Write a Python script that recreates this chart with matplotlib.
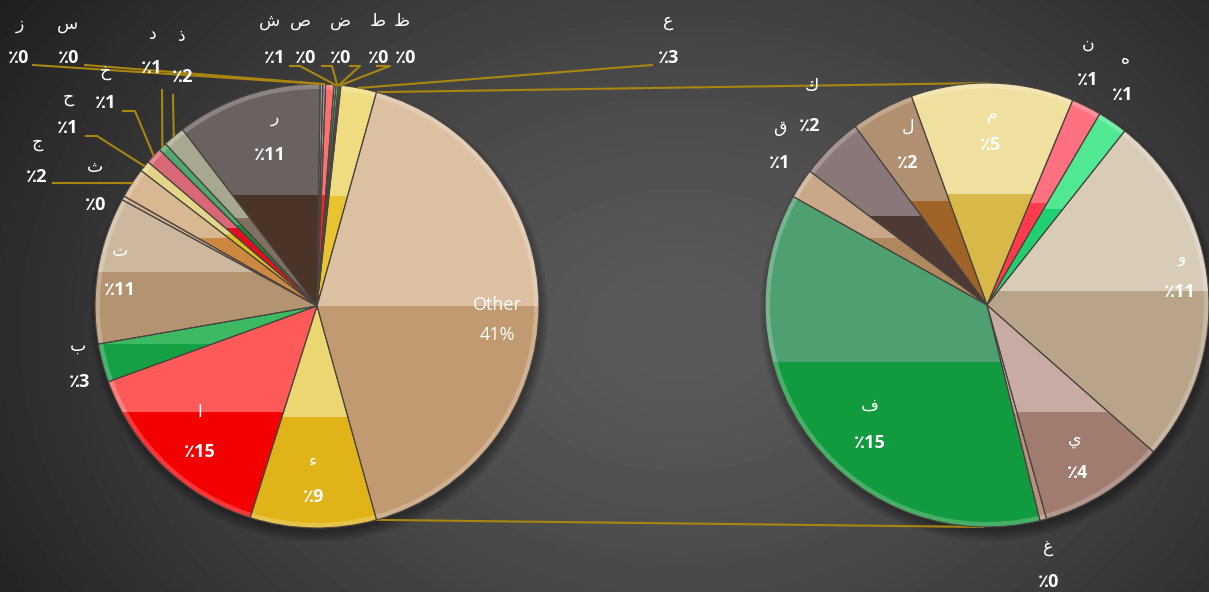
import numpy as np
import matplotlib.pyplot as plt
from matplotlib.patches import Rectangle, Wedge, Circle, PathPatch

# %% data (percent of total)
left_letters = ['ء', 'ا', 'ب', 'ت', 'ث', 'ج', 'ح', 'خ', 'د', 'ذ', 'ر',
                'ز', 'س', 'ش', 'ص', 'ض', 'ط', 'ظ', 'ع']
left_values = [9.2, 14.6, 2.8, 10.7, 0.3, 2.2, 0.8, 1.2, 0.6, 1.6, 10.6,
               0.2, 0.2, 0.6, 0.15, 0.15, 0.1, 0.1, 2.6]
right_letters = ['غ', 'ف', 'ق', 'ك', 'ل', 'م', 'ن', 'ه', 'و', 'ي']
right_values = [0.2, 15.3, 0.9, 1.9, 1.9, 4.9, 0.9, 0.9, 10.7, 3.8]
other_name = 'Other'

# colours: (upper glossy, lower) per slice
left_light = ['#ecd672', '#ff5a5a', '#3cba62', '#ccb89e', '#d0b090', '#d8b890',
              '#e4d488', '#d86878', '#50a870', '#a8a890', '#6a6260',
              '#909090', '#a0a0a0', '#ff7070', '#60d080', '#60d080',
              '#f0e090', '#f0e090', '#f0dc80']
left_dark = ['#e0b418', '#f50000', '#16a044', '#b49470', '#c89060', '#cc8840',
             '#e0c020', '#e01020', '#109040', '#807060', '#4a3428',
             '#706860', '#807870', '#ff2020', '#20b050', '#20b050',
             '#e8c830', '#e8c830', '#e8c430']
other_light, other_dark = '#dcc0a2', '#c29a72'
right_light = ['#c8a8a0', '#4fa070', '#c8a888', '#8a7878', '#b09070',
               '#f0e0a0', '#ff7080', '#50e890', '#d8ccb8', '#c8aca4']
right_dark = ['#b89080', '#129a3e', '#b08860', '#4e3a34', '#a06428',
              '#d8b848', '#ff3a4a', '#20d070', '#b8a488', '#a07c70']

# %% layout (pixel coords, origin top-left)
W, H = 1209, 592
R = 222
left_c = (317, 306)
right_c = (987, 305)
# label positions: letter xy, percent xy
left_lab = {
    'ء': ((313, 462), (313, 497)), 'ا': ((200, 413), (200, 452)),
    'ب': ((78, 347), (79, 382)), 'ت': ((120, 252), (120, 290)),
    'ث': ((95, 168), (95, 205)), 'ج': ((37, 143), (37, 177)),
    'ح': ((68, 98), (68, 128)), 'خ': ((105, 72), (106, 103)),
    'د': ((153, 35), (152, 68)), 'ذ': ((182, 37), (183, 77)),
    'ر': ((275, 118), (270, 155)), 'ز': ((20, 25), (18, 58)),
    'س': ((68, 25), (68, 58)), 'ش': ((270, 22), (275, 58)),
    'ص': ((300, 22), (305, 58)), 'ض': ((340, 22), (340, 58)),
    'ط': ((378, 22), (378, 58)), 'ظ': ((402, 22), (405, 58)),
    'ع': ((668, 22), (668, 58)),
}
right_lab = {
    'غ': ((1048, 548), (1048, 582)), 'ف': ((870, 407), (870, 443)),
    'ق': ((780, 128), (780, 163)), 'ك': ((812, 87), (810, 126)),
    'ل': ((908, 128), (908, 163)), 'م': ((992, 115), (990, 145)),
    'ن': ((1088, 45), (1088, 80)), 'ه': ((1125, 60), (1123, 95)),
    'و': ((1182, 258), (1180, 292)), 'ي': ((1075, 440), (1077, 473)),
}
# leader start points (pixel coords)
leaders = {
    'ز': [(33, 65)], 'س': [(85, 65)],
    'ص': [(290, 66), (300, 66)], 'ض': [(322, 66), (332, 66)],
    'ط': [(350, 66), (360, 66)], 'ظ': [(377, 66), (390, 66)],
    'ع': [(652, 65)], 'ذ': [(173, 95)], 'د': [(162, 90)],
    'خ': [(123, 111), (135, 111)], 'ح': [(86, 136), (97, 136)],
    'ج': [(53, 183)],
}


def px(p):
    return (p[0], H - p[1])


FONT = ['Open Sans', 'DejaVu Sans']
GOLD = '#a8860f'

fig = plt.figure(figsize=(W / 100, H / 100), dpi=100)
ax = fig.add_axes([0, 0, 1, 1])

# background: dark radial gradient, lighter in the middle
yy, xx = np.mgrid[0:H, 0:W]
d = np.hypot((xx - 680) / 700, (yy - 330) / 520)
shade = 0.355 - 0.19 * np.clip(d, 0, 1.3) ** 1.4
ax.imshow(shade, extent=[0, W, 0, H], origin='upper', cmap='gray',
          vmin=0, vmax=1, zorder=0, aspect='auto', interpolation='bilinear')

# soft shadows
for c in (left_c, right_c):
    cx, cy = px(c)
    for k in range(6):
        ax.add_patch(Circle((cx + 2, cy - 7), R + 7 - 2 * k, color='black',
                            alpha=0.07, lw=0, zorder=1))

other = sum(right_values)
total = other + sum(left_values)
half = other / total * 180

wl, _ = ax.pie([other] + left_values, colors=[other_dark] + left_dark,
               startangle=half, counterclock=False, center=px(left_c),
               radius=R, frame=True,
               wedgeprops=dict(edgecolor='none', linewidth=0, zorder=3))
wr, _ = ax.pie(right_values, colors=right_dark, startangle=-half,
               counterclock=False, center=px(right_c), radius=R, frame=True,
               wedgeprops=dict(edgecolor='none', linewidth=0, zorder=3))


def gloss(wedges, lights):
    for w, c in zip(wedges, lights):
        bb = w.get_path().get_extents()
        ymid = (bb.y0 + bb.y1) / 2
        top = Rectangle((bb.x0 - 2, ymid), bb.width + 4, bb.y1 - ymid + 2,
                        facecolor=c, edgecolor='none', zorder=3.1)
        ax.add_patch(top)
        top.set_clip_path(w)
        rim = Wedge(w.center, w.r, w.theta1, w.theta2, width=5,
                    facecolor='white', alpha=0.22, edgecolor='none', zorder=3.2)
        ax.add_patch(rim)
        ax.add_patch(PathPatch(w.get_path(), facecolor='none',
                               edgecolor='#4a4440', lw=0.8, zorder=3.3))


gloss(wl, [other_light] + left_light)
gloss(wr, right_light)

# connector lines between the pies
a = np.deg2rad(half)
lx, ly = px(left_c)
rx, ry = px(right_c)
ax.plot([lx + R * np.cos(a), rx], [ly + R * np.sin(a), ry + R],
        color=GOLD, lw=1.5, zorder=2)
ax.plot([lx + R * np.cos(a), rx - 4], [ly - R * np.sin(a), ry - R],
        color=GOLD, lw=1.5, zorder=2)


def pct(v):
    return '٪' + str(int(v / total * 100 + 0.5))


def put(letter, value, pos):
    (p1, p2) = pos
    ax.text(*px(p1), letter, color='white', fontsize=12.5, family=FONT,
            ha='center', va='center', zorder=6)
    ax.text(*px(p2), pct(value), color='white', fontsize=13, family=FONT,
            fontweight='bold', ha='center', va='center', zorder=6)


for w, letter, v in zip(wl[1:], left_letters, left_values):
    put(letter, v, left_lab[letter])
    if letter in leaders:
        mid = np.deg2rad((w.theta1 + w.theta2) / 2)
        end = (w.center[0] + w.r * np.cos(mid), w.center[1] + w.r * np.sin(mid))
        pts = [px(p) for p in leaders[letter]] + [end]
        ax.plot([p[0] for p in pts], [p[1] for p in pts], color=GOLD,
                lw=1.5, zorder=5)

for w, letter, v in zip(wr, right_letters, right_values):
    put(letter, v, right_lab[letter])

ax.text(*px((497, 305)), other_name, color='white', fontsize=13, family=FONT,
        ha='center', va='center', zorder=6)
ax.text(*px((497, 335)), f'{int(other / total * 100 + 0.5)}%', color='white',
        fontsize=13, family=FONT, ha='center', va='center', zorder=6)

ax.set_xlim(0, W)
ax.set_ylim(0, H)
ax.axis('off')
fig.savefig('out.png', dpi=100)
